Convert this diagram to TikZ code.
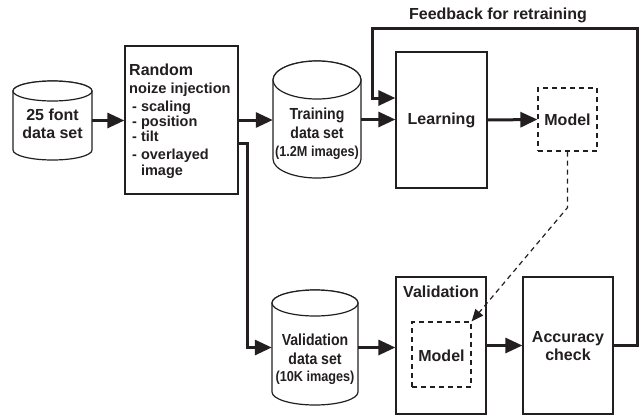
\documentclass[tikz,border=0pt]{standalone}
\usepackage{fontspec}
\setmainfont{Liberation Sans}
\newfontfamily\narrowfont[FakeStretch=0.88]{Liberation Sans}
\usetikzlibrary{arrows.meta,calc}
\definecolor{ink}{HTML}{231F20}

% database drum: name, left x, right x, top y, bottom y, cap radius
\newcommand\dbdrum[6]{%
  \filldraw[drumline] (#2,#4+#6) -- (#2,#5-#6)
    arc[start angle=180,end angle=0,x radius={(#3-#2)/2},y radius=#6]
    -- (#3,#4+#6)
    arc[start angle=0,end angle=-180,x radius={(#3-#2)/2},y radius=#6] -- cycle;
  \draw[drumline] ({(#2+#3)/2},#4+#6) ellipse[x radius={(#3-#2)/2},y radius=#6];
  \node[inner sep=0pt,minimum width={(#3-#2)*1pt},minimum height={(#5-#4)*1pt}]
    (#1) at ({(#2+#3)/2},{(#4+#5)/2}) {};
}

\begin{document}
\begin{tikzpicture}[x=1pt,y=-1pt,
  every node/.style={text=ink,font=\bfseries},
  drumline/.style={draw=ink,fill=white,line width=1.2pt},
  box/.style={draw=ink,fill=white,line width=1.3pt,inner sep=0pt},
  dbox/.style={draw=ink,line width=1.2pt,dash pattern=on 5pt off 4pt,inner sep=0pt},
  flow/.style={draw=ink,line width=3pt,-{Triangle[length=17pt,width=15pt]}},
  dflow/.style={draw=ink,line width=1.2pt,dash pattern=on 5pt off 4pt,-{Triangle[length=12pt,width=10pt]}},
  big/.style={font=\bfseries\fontsize{16}{18.5}\selectfont},
  narrow/.style={font=\narrowfont\bfseries\fontsize{16}{19}\selectfont},
  item/.style={anchor=base west,inner sep=0pt,font=\bfseries\fontsize{14.5}{16}\selectfont}
]
\useasboundingbox (0,0) rectangle (640,416);
\fill[white] (0,0) rectangle (640,416);

% data sets
\dbdrum{fonts}{13}{92}{81}{160}{10}
\node[big,align=center] (fontstxt) at (52.5,124) {25 font\\data set};

\dbdrum{train}{273}{361}{61}{178}{19}
\node[narrow,align=center] (traintxt) at (317,134)
  {Training\\data set\\[-1pt]{\fontsize{14.4}{16}\selectfont(1.2M images)}};

\dbdrum{valid}{272}{358}{290}{405}{13}
\node[narrow,align=center] (validtxt) at (315,359)
  {Validation\\data set\\[-2pt]{\fontsize{14.4}{16}\selectfont(10K images)}};

% noise injection block and its list
\node[box,minimum width=113pt,minimum height=148pt] (noise) at (181.5,120) {};
\node[item,font=\bfseries\fontsize{16}{18}\selectfont] (n1) at (129,75) {Random};
\node[item,font=\bfseries\fontsize{14.6}{16}\selectfont] (n2) at (129,93) {noize injection};
\node[item] (n3) at (132,111) {- scaling};
\node[item] (n4) at (132,126) {- position};
\node[item] (n5) at (132,141) {- tilt};
\node[item] (n6) at (132,159) {- overlayed};
\node[item] (n7) at (132,175) {\phantom{- }image};

% learning side
\node[box,minimum width=91pt,minimum height=136pt] (learn) at (441.5,120) {};
\node[big] (learntxt) at (441.5,120) {Learning};

\node[dbox,minimum width=59pt,minimum height=63pt] (model) at (567.5,119.5) {};
\node[big] (modeltxt) at (567.5,120) {Model};

% validation side
\node[box,minimum width=90pt,minimum height=137pt] (vbox) at (441,345.5) {};
\node[big] (vboxtxt) at (441,292) {Validation};
\node[dbox,minimum width=59pt,minimum height=65pt] (vmodel) at (441.5,354.5) {};
\node[big] (vmodeltxt) at (441.5,356) {Model};

\node[box,minimum width=90pt,minimum height=137pt] (acc) at (568,345.5) {};
\node[big,align=center] (acctxt) at (568,346) {Accuracy\\check};

% feedback loop corners
\coordinate (fbr) at (637,28);
\coordinate (fbl) at (372,28);
\node[big] (fbtxt) at (498,15) {Feedback for retraining};

% connectors
\draw[flow] (fonts.east) -- (fonts.east -| noise.west);
\draw[flow] (noise.east) -- (noise.east -| train.west);
\draw[flow] ($(noise.east)+(0,23)$) -- ++(9,0) |- (valid.west);
\draw[flow] (train.east) -- (train.east -| learn.west);
\draw[flow] (learn.east) -- (model.west);
\draw[dflow] (model.south) -- ++(0,56) -- (vmodel.north east);
\draw[flow] (valid.east) -- (valid.east -| vbox.west);
\draw[flow] (vbox.east) -- (acc.west);
\draw[flow] (acc.east) -| (fbr) -- (fbl) |- ($(learn.west)+(0,-22)$);
\end{tikzpicture}
\end{document}
